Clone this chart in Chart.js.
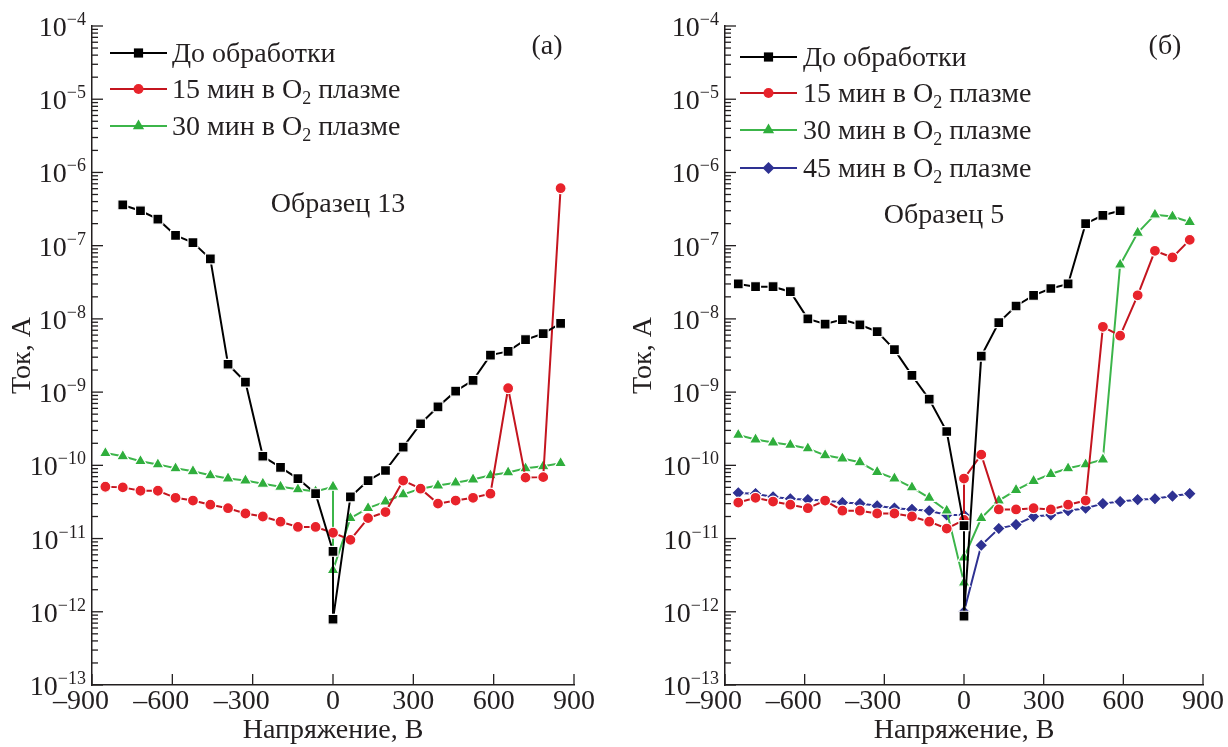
<!DOCTYPE html>
<html lang="ru">
<head>
  <meta charset="UTF-8" />
  <title>ВАХ образцов</title>
  <script src="https://cdn.jsdelivr.net/npm/chart.js@4.4.1/dist/chart.umd.min.js"></script>
  <style>
    body { margin: 0; background: #fff; }
    .panel { position: absolute; top: 0; width: 614px; height: 747px; }
  </style>
</head>
<body>
  <div class="panel" style="left:0"><canvas id="chartA" width="614" height="747"></canvas></div>
  <div class="panel" style="left:614px"><canvas id="chartB" width="614" height="747"></canvas></div>
<script>
const FONT = "'Liberation Serif', 'Times New Roman', serif";
const INK = '#231f20';

// voltage steps, В
const vNeg = [-850, -785, -719, -654, -588, -523, -458, -392, -327, -262, -196, -131, -65];
const vPos = [65, 131, 196, 262, 327, 392, 458, 523, 588, 654, 719, 785, 850];

const xTicks = [-900, -600, -300, 0, 300, 600, 900];
const yExp = [-13, -12, -11, -10, -9, -8, -7, -6, -5, -4];

const labels = ['До обработки', '15 мин в O₂ плазме', '30 мин в O₂ плазме', '45 мин в O₂ плазме'];

// (а) Образец 13
const aBlackV = vNeg.slice(1).concat([0, 0], vPos);
const aBlackI = [3.6e-7, 3.0e-7, 2.3e-7, 1.38e-7, 1.1e-7, 6.6e-8, 2.4e-9, 1.37e-9, 1.33e-10, 9.4e-11, 6.6e-11, 4.1e-11,
  6.7e-12, 7.9e-13,
  3.7e-11, 6.2e-11, 8.5e-11, 1.77e-10, 3.7e-10, 6.3e-10, 1.03e-9, 1.45e-9, 3.2e-9, 3.6e-9, 5.2e-9, 6.3e-9, 8.7e-9];
const aRedV = vNeg.concat([0], vPos);
const aRedI = [5.1e-11, 5.0e-11, 4.5e-11, 4.5e-11, 3.6e-11, 3.3e-11, 2.9e-11, 2.6e-11, 2.2e-11, 2.0e-11, 1.7e-11, 1.44e-11, 1.44e-11,
  1.2e-11,
  9.6e-12, 1.9e-11, 2.3e-11, 6.2e-11, 4.8e-11, 3.0e-11, 3.3e-11, 3.6e-11, 4.1e-11, 1.13e-9, 6.8e-11, 6.9e-11, 6.1e-7];
const aGreenV = vNeg.concat([0, 0], vPos);
const aGreenI = [1.47e-10, 1.33e-10, 1.14e-10, 1.03e-10, 9.1e-11, 8.3e-11, 7.3e-11, 6.6e-11, 6.2e-11, 5.6e-11, 5.1e-11, 4.7e-11, 4.4e-11,
  5.1e-11, 3.7e-12,
  1.9e-11, 2.6e-11, 3.2e-11, 4.0e-11, 4.8e-11, 5.3e-11, 5.8e-11, 6.4e-11, 7.3e-11, 8.0e-11, 9.1e-11, 9.7e-11, 1.07e-10];

// (б) Образец 5
const bBlackV = vNeg.concat([0, 0], vPos.slice(0, 9));
const bBlackI = [3.0e-8, 2.75e-8, 2.75e-8, 2.35e-8, 1.0e-8, 8.5e-9, 9.8e-9, 8.3e-9, 6.7e-9, 3.8e-9, 1.69e-9, 8.0e-10, 2.9e-10,
  1.5e-11, 8.7e-13,
  3.1e-9, 8.9e-9, 1.5e-8, 2.1e-8, 2.6e-8, 3.0e-8, 2.0e-7, 2.6e-7, 3.0e-7];
const bRedV = vNeg.concat([0, 0], vPos);
const bRedI = [3.1e-11, 3.6e-11, 3.2e-11, 2.9e-11, 2.6e-11, 3.3e-11, 2.4e-11, 2.4e-11, 2.2e-11, 2.2e-11, 2.0e-11, 1.7e-11, 1.37e-11,
  1.8e-11, 6.6e-11,
  1.4e-10, 2.5e-11, 2.5e-11, 2.6e-11, 2.5e-11, 2.9e-11, 3.3e-11, 7.8e-9, 5.9e-9, 2.1e-8, 8.5e-8, 6.9e-8, 1.2e-7];
const bGreenV = vNeg.concat([0, 0], vPos);
const bGreenI = [2.6e-10, 2.25e-10, 2.05e-10, 1.9e-10, 1.7e-10, 1.37e-10, 1.24e-10, 1.1e-10, 8.1e-11, 6.6e-11, 5.0e-11, 3.6e-11, 2.4e-11,
  2.5e-12, 5.5e-12,
  1.9e-11, 3.3e-11, 4.6e-11, 6.1e-11, 7.6e-11, 9.1e-11, 1.03e-10, 1.2e-10, 5.5e-8, 1.5e-7, 2.65e-7, 2.5e-7, 2.1e-7];
const bBlueV = vNeg.concat([0, 0], vPos);
const bBlueI = [4.2e-11, 4.1e-11, 3.7e-11, 3.5e-11, 3.4e-11, 3.3e-11, 3.1e-11, 3.0e-11, 2.8e-11, 2.6e-11, 2.5e-11, 2.4e-11, 2.1e-11,
  2.1e-11, 1.0e-12,
  8.1e-12, 1.37e-11, 1.55e-11, 2.0e-11, 2.1e-11, 2.4e-11, 2.6e-11, 3.0e-11, 3.2e-11, 3.4e-11, 3.5e-11, 3.8e-11, 4.1e-11];

function series(label, xs, ys, fill, line, style, r) {
  return {
    label: label,
    data: xs.map(function (x, i) { return { x: x, y: ys[i] }; }),
    borderColor: line,
    backgroundColor: fill,
    pointBackgroundColor: fill,
    pointBorderColor: '#fff',
    pointBorderWidth: 1.2,
    pointStyle: style,
    pointRadius: r,
    borderWidth: 2,
    tension: 0
  };
}

function drawMarker(ctx, style, x, y, r, fill) {
  ctx.save();
  ctx.fillStyle = fill;
  ctx.beginPath();
  if (style === 'circle') {
    ctx.arc(x, y, r, 0, Math.PI * 2);
  } else if (style === 'rect') {
    const s = r * Math.SQRT1_2;
    ctx.rect(x - s, y - s, 2 * s, 2 * s);
  } else if (style === 'triangle') {
    ctx.moveTo(x, y - r);
    ctx.lineTo(x + r * 0.866, y + r * 0.5);
    ctx.lineTo(x - r * 0.866, y + r * 0.5);
    ctx.closePath();
  } else {
    ctx.moveTo(x, y - r);
    ctx.lineTo(x + r, y);
    ctx.lineTo(x, y + r);
    ctx.lineTo(x - r, y);
    ctx.closePath();
  }
  ctx.fill();
  ctx.restore();
}

function seg(ctx, x1, y1, x2, y2) {
  ctx.beginPath();
  ctx.moveTo(x1, y1);
  ctx.lineTo(x2, y2);
  ctx.stroke();
}

// text with "₂" drawn as a real lowered small 2
function subText(ctx, str, x, y, size) {
  const parts = str.split('₂');
  let cx = x;
  ctx.textAlign = 'left';
  ctx.textBaseline = 'alphabetic';
  parts.forEach(function (p, i) {
    ctx.font = size + 'px ' + FONT;
    ctx.fillText(p, cx, y);
    cx += ctx.measureText(p).width;
    if (i < parts.length - 1) {
      ctx.font = Math.round(size * 0.65) + 'px ' + FONT;
      ctx.fillText('2', cx, y + 6);
      cx += ctx.measureText('2').width;
    }
  });
}

const decor = {
  id: 'decor',
  beforeDatasetsDraw(chart) {
    const ctx = chart.ctx;
    const xs = chart.scales.x, ys = chart.scales.y;
    const a = chart.chartArea;
    ctx.save();
    ctx.strokeStyle = INK;
    ctx.lineWidth = 1.3;
    yExp.forEach(function (e) {
      const y = ys.getPixelForValue(Math.pow(10, e));
      seg(ctx, a.left, y, a.left + 11, y);
      if (e < -4) {
        for (let m = 2; m <= 9; m++) {
          const ym = ys.getPixelForValue(m * Math.pow(10, e));
          seg(ctx, a.left, ym, a.left + 6, ym);
        }
      }
      // label 10^e
      const ex = '−' + Math.abs(e);
      ctx.fillStyle = INK;
      ctx.textAlign = 'left';
      ctx.textBaseline = 'alphabetic';
      ctx.font = '18px ' + FONT;
      const ew = ctx.measureText(ex).width;
      ctx.font = '28px ' + FONT;
      const bw = ctx.measureText('10').width;
      const right = a.left - 6;
      ctx.fillText('10', right - ew - bw, y + 10);
      ctx.font = '18px ' + FONT;
      ctx.fillText(ex, right - ew, y - 1);
    });
    ctx.font = '28px ' + FONT;
    ctx.fillStyle = INK;
    ctx.textAlign = 'center';
    ctx.textBaseline = 'middle';
    xTicks.forEach(function (v) {
      const x = xs.getPixelForValue(v);
      seg(ctx, x, a.bottom, x, a.bottom - 11);
      ctx.fillText(v < 0 ? '–' + (-v) : String(v), v < 0 ? x - 11 : x, a.bottom + 17);
    });
    ctx.restore();
  },
  afterDraw(chart, args, o) {
    const ctx = chart.ctx;
    ctx.save();
    chart.data.datasets.forEach(function (ds, i) {
      const y = o.rows[i];
      ctx.strokeStyle = ds.borderColor;
      ctx.lineWidth = 2;
      seg(ctx, o.x1, y, o.x2, y);
      drawMarker(ctx, ds.pointStyle, (o.x1 + o.x2) / 2, y, ds.pointRadius - 0.5, ds.pointBackgroundColor);
      ctx.fillStyle = INK;
      subText(ctx, ds.label, o.tx, y + 9, 28);
    });
    ctx.fillStyle = INK;
    ctx.font = '28px ' + FONT;
    ctx.textAlign = 'center';
    ctx.textBaseline = 'middle';
    ctx.fillText(o.tag, o.tagX, o.tagY);
    ctx.fillText(o.sample, o.sampleX, o.sampleY);
    ctx.restore();
  }
};

function makePanel(id, datasets, cfg) {
  return new Chart(document.getElementById(id), {
    type: 'line',
    data: { datasets: datasets },
    plugins: [decor],
    options: {
      responsive: false,
      animation: false,
      devicePixelRatio: 1,
      layout: { padding: { top: 26, bottom: 0, left: 0, right: cfg.padRight } },
      plugins: {
        legend: { display: false },
        tooltip: { enabled: false },
        decor: cfg
      },
      scales: {
        x: {
          type: 'linear',
          min: -900,
          max: 900,
          afterBuildTicks: function (s) { s.ticks = xTicks.map(function (v) { return { value: v }; }); },
          afterFit: function (s) { s.height = 62; },
          grid: { display: false, drawTicks: false },
          border: { display: true, color: INK, width: 1.5 },
          ticks: { display: false },
          title: {
            display: true,
            text: 'Напряжение, В',
            font: { family: FONT, size: 28 },
            color: INK,
            padding: { top: 0, bottom: 0 }
          }
        },
        y: {
          type: 'logarithmic',
          min: 1e-13,
          max: 1e-4,
          afterBuildTicks: function (s) { s.ticks = yExp.map(function (e) { return { value: Math.pow(10, e) }; }); },
          afterFit: function (s) { s.width = cfg.yWidth; },
          grid: { display: false, drawTicks: false },
          border: { display: true, color: INK, width: 1.5 },
          ticks: { display: false },
          title: {
            display: true,
            text: 'Ток, А',
            font: { family: FONT, size: 28 },
            color: INK,
            padding: { top: cfg.titlePad, bottom: 0 }
          }
        }
      }
    }
  });
}

makePanel('chartA', [
  series(labels[0], aBlackV, aBlackI, '#000000', '#000000', 'rect', 7),
  series(labels[1], aRedV, aRedI, '#e8232b', '#c4151f', 'circle', 5.5),
  series(labels[2], aGreenV, aGreenI, '#2fae3c', '#3cb54a', 'triangle', 7)
], {
  yWidth: 92, padRight: 40, titlePad: 6,
  x1: 110, x2: 167, tx: 172, rows: [53, 89, 126],
  tag: '(а)', tagX: 547, tagY: 47,
  sample: 'Образец 13', sampleX: 338, sampleY: 205
});

makePanel('chartB', [
  series(labels[0], bBlackV, bBlackI, '#000000', '#000000', 'rect', 7),
  series(labels[1], bRedV, bRedI, '#e8232b', '#c4151f', 'circle', 5.5),
  series(labels[2], bGreenV, bGreenI, '#2fae3c', '#3cb54a', 'triangle', 7),
  series(labels[3], bBlueV, bBlueI, '#2e3192', '#2e3192', 'rectRot', 6.5)
], {
  yWidth: 111, padRight: 25, titlePad: 13,
  x1: 126, x2: 183, tx: 189, rows: [57, 93, 130, 168],
  tag: '(б)', tagX: 551, tagY: 47,
  sample: 'Образец 5', sampleX: 330, sampleY: 216
});
</script>
</body>
</html>
